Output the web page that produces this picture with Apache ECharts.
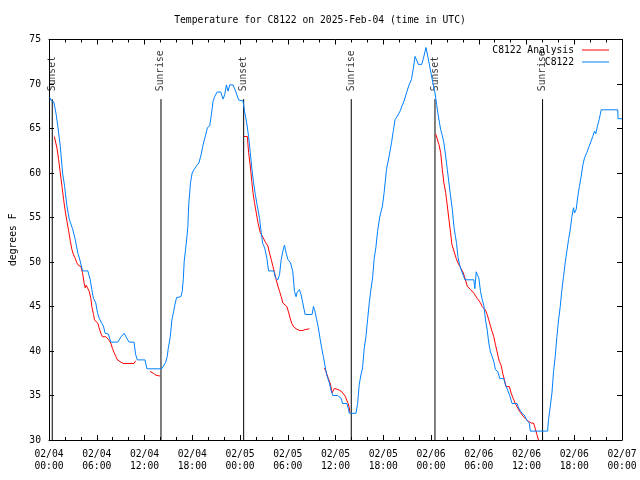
<!DOCTYPE html>
<html>
<head>
<meta charset="utf-8">
<script src="https://cdn.jsdelivr.net/npm/echarts@6/dist/echarts.min.js"></script>
<style>
html,body{margin:0;padding:0;background:#fff;}
#chart{width:640px;height:480px;}
</style>
</head>
<body>
<div id="chart"></div>
<script>
// hours since 2025-02-04 00:00 UTC
var obsHours = [0.1,0.3,0.6,0.9,1.13,1.42,1.71,1.96,2.25,2.55,3.0,3.3,3.63,3.92,4.21,4.88,5.18,5.38,5.59,5.88,6.09,6.3,6.64,6.84,7.05,7.47,7.76,8.64,9.06,9.43,9.64,10.06,10.68,10.89,11.1,12.06,12.31,14.15,14.36,14.65,14.86,14.99,15.24,15.44,15.65,15.82,16.03,16.57,16.74,16.87,16.99,17.16,17.32,17.45,17.57,17.78,17.99,18.24,18.53,18.82,19.07,19.37,19.66,19.91,20.2,20.41,20.62,20.83,21.12,21.58,21.87,22.08,22.29,22.5,22.71,23.12,23.45,23.83,24.38,24.58,24.88,25.08,25.29,25.5,25.71,25.92,26.17,26.46,26.67,26.85,27.1,27.38,27.59,28.25,28.46,28.76,28.97,29.18,29.38,29.59,29.8,30.01,30.35,30.64,30.84,31.05,31.18,31.47,31.68,31.89,32.18,33.06,33.23,33.43,33.64,33.85,34.06,34.27,34.47,34.69,34.9,35.23,35.44,35.65,36.27,36.48,36.69,36.9,37.44,37.65,37.73,38.57,38.78,38.98,39.19,39.4,39.61,39.82,40.03,40.24,40.45,40.66,40.86,41.07,41.28,41.57,41.9,42.11,42.41,42.74,43.04,43.29,43.49,43.79,44.08,44.29,44.62,44.92,45.24,45.54,45.79,45.99,46.2,46.42,46.83,47.05,47.37,47.62,47.9,48.2,48.5,48.71,48.92,49.21,49.42,49.62,49.84,50.05,50.25,50.46,50.68,50.88,51.05,51.21,51.38,51.59,51.8,52.05,52.26,53.38,53.51,53.68,53.81,54.01,54.22,54.43,54.64,54.85,55.06,55.26,55.47,55.68,55.89,56.1,56.39,56.64,57.14,57.35,57.64,57.89,58.18,58.81,59.01,59.43,59.72,60.07,60.35,60.48,62.65,62.77,62.99,63.2,63.4,63.61,63.82,64.03,64.24,64.45,64.66,64.86,65.07,65.28,65.49,65.7,65.91,66.03,66.24,66.45,66.65,66.87,67.08,67.29,67.58,67.87,68.08,68.33,68.54,68.7,68.92,69.13,69.39,71.47,71.5,72];
var obsTemps = [68.5,68.1,68.0,66.6,65.1,63.0,60.0,58.5,56.3,54.8,53.6,52.5,51.0,50.1,49.0,49.0,48.0,46.9,45.9,45.4,44.3,43.7,43.1,42.8,42.0,41.9,41.0,41.0,41.6,42.0,41.8,41.0,41.0,39.6,39.0,39.0,38.0,38.0,38.2,38.7,39.4,40.3,41.6,43.5,44.4,45.2,46.0,46.1,46.7,48.0,50.1,51.4,52.7,54.0,56.6,58.9,60.0,60.4,60.8,61.1,61.9,63.2,64.2,65.1,65.3,66.6,68.1,68.6,69.1,69.1,68.3,68.8,69.9,69.2,69.9,69.9,69.2,68.2,68.1,66.9,65.4,64.1,62.3,60.4,58.9,57.6,56.3,54.9,53.3,52.1,51.6,50.4,49.0,49.0,48.2,48.0,48.6,50.3,51.2,51.9,51.0,50.3,49.9,48.9,46.7,46.1,46.6,46.9,46.3,45.4,44.1,44.1,45.0,44.4,43.5,42.6,41.4,40.3,39.4,38.3,37.3,36.4,35.6,35.0,35.0,35.1,34.7,34.1,34.1,33.4,33.0,33.0,34.1,36.2,37.3,38.1,40.3,41.6,43.5,45.4,46.9,48.2,50.4,51.6,53.4,55.1,56.3,57.8,60.4,61.9,63.4,64.9,66.0,66.4,66.9,67.1,68.1,69.0,69.9,70.5,71.8,73.1,72.9,72.2,72.2,72.9,74.1,73.0,71.7,70.3,69.0,67.7,66.4,64.9,64.2,63.4,61.9,60.4,58.9,57.4,55.9,54.0,53.0,52.1,50.6,49.7,49.1,48.9,48.0,48.0,47.0,48.9,48.6,48.2,46.7,45.8,45.1,43.5,42.4,40.9,39.9,39.4,38.8,37.9,37.7,36.9,36.9,36.2,35.6,35.0,34.1,34.1,33.6,33.0,32.8,32.2,31.9,31.0,31.0,32.3,33.8,35.3,37.7,39.4,41.6,43.5,45.0,46.9,48.4,49.9,51.2,52.5,53.6,55.1,56.1,55.5,55.9,57.4,58.5,59.6,60.9,61.7,62.3,63.0,63.2,64.1,64.7,64.4,65.3,66.0,67.1,67.1,66.1,66.1];

// analysis; '-' marks a gap
var anaHours = [0.67,0.88,1.0,1.21,1.42,1.63,1.84,2.04,2.25,2.47,2.67,2.88,3.09,3.3,3.5,3.72,4.0,4.21,4.42,4.55,4.67,4.88,5.05,5.26,5.38,5.59,5.72,5.92,6.14,6.3,6.51,6.72,6.84,7.14,7.47,7.76,7.97,8.18,8.39,8.6,8.93,9.35,10.68,10.89,11.8,12.69,12.9,13.11,13.4,13.82,13.94,19.0,24.5,24.92,25.08,25.29,25.5,25.63,25.83,26.05,26.26,26.55,26.88,27.21,27.51,27.71,27.92,28.14,28.34,28.55,28.76,28.97,29.18,29.38,29.59,29.89,30.09,30.3,30.51,30.76,31.05,31.47,31.89,32.18,32.72,33.6,34.6,34.81,35.02,35.23,35.36,35.57,35.86,36.2,36.48,36.81,37.03,37.23,37.44,37.6,37.73,37.81,43.0,48.58,48.79,49.0,49.21,49.42,49.62,49.84,50.05,50.25,50.46,50.62,50.75,50.96,51.17,51.38,51.63,51.84,52.05,52.26,52.55,52.76,52.97,53.38,53.81,54.22,54.43,54.64,54.85,55.06,55.26,55.47,55.68,55.89,56.1,56.31,56.43,56.6,56.81,57.01,57.22,57.43,57.64,57.85,58.06,58.31,58.6,58.89,59.22,59.64,59.97,60.26,60.6,60.89,61.1,61.31,61.51,61.6];
var anaTemps = [64.1,64.1,62.8,61.5,60.0,58.5,57.0,55.7,54.6,53.5,52.4,51.4,50.8,50.4,49.9,49.6,49.5,48.8,47.6,47.1,47.4,47.4,46.7,45.9,45.0,44.1,43.5,43.7,43.1,42.6,42.0,41.6,41.8,41.6,41.3,40.9,40.3,39.8,39.4,39.0,38.8,38.6,38.6,38.9,'-',37.7,37.6,37.5,37.3,37.2,37.2,'-',64.1,64.1,62.3,60.8,58.9,57.8,56.6,55.5,54.4,53.3,52.8,52.2,51.8,51.0,50.3,49.5,48.8,48.0,47.3,46.7,46.1,45.4,45.3,45.0,44.4,43.7,43.1,42.7,42.5,42.3,42.3,42.4,42.5,'-',38.1,37.7,37.1,36.6,36.3,35.3,35.8,35.7,35.6,35.4,35.3,34.9,34.4,34.1,33.6,33.1,'-',64.4,64.4,63.2,62.3,60.4,58.9,57.8,56.3,54.8,53.3,52.0,51.8,51.0,50.4,49.9,49.5,49.3,48.8,48.2,47.3,47.1,46.9,46.5,45.9,45.4,45.0,45.2,44.6,44.1,43.5,42.8,42.2,41.6,40.7,39.9,39.4,38.8,38.4,37.5,36.8,36.0,35.9,36.0,35.3,34.7,34.1,33.6,33.1,32.6,32.3,32.1,31.9,31.9,31.3,30.6,30.0,29.8];

var sunHours = [0.41,14.07,24.46,37.98,48.5,62.02];
var sunNames = ['Sunset','Sunrise','Sunset','Sunrise','Sunset','Sunrise'];
var sunLineBottom = 30, sunLineTop = 68.3;

var xTickLabels = ['02/04\n00:00','02/04\n06:00','02/04\n12:00','02/04\n18:00','02/05\n00:00','02/05\n06:00','02/05\n12:00','02/05\n18:00','02/06\n00:00','02/06\n06:00','02/06\n12:00','02/06\n18:00','02/07\n00:00'];
var yTicks = [30,35,40,45,50,55,60,65,70,75];

var FONT = 'DejaVu Sans Mono';
var FS = 9.7;

function zip(a,b){var r=[];for(var i=0;i<a.length;i++){r.push([a[i],b[i]]);}return r;}

var sunLineData = [];
var sunLabelData = [];
for (var i=0;i<sunHours.length;i++){
  sunLineData.push([sunHours[i], sunLineBottom]);
  sunLineData.push([sunHours[i], sunLineTop]);
  sunLineData.push([sunHours[i], '-']);
  sunLabelData.push({value:[sunHours[i], sunLineTop], name: sunNames[i]});
}

var axisCommon = {
  axisLine:{show:true, onZero:false, lineStyle:{color:'#000', width:1}},
  splitLine:{show:false}
};

var legendCommon = {
  right:31, padding:0, orient:'vertical', align:'right',
  icon:'rect', itemWidth:27, itemHeight:1, selectedMode:false,
  textStyle:{fontFamily:FONT, fontSize:FS, color:'#000', padding:[0,3,0,0], lineHeight:12}
};

var chart = echarts.init(document.getElementById('chart'), null, {renderer:'canvas'});
chart.setOption({
  animation:false,
  backgroundColor:'#fff',
  title:{
    text:'Temperature for C8122 on 2025-Feb-04 (time in UTC)',
    left:'center', top:14.5, padding:0,
    textStyle:{fontFamily:FONT, fontSize:FS, fontWeight:'normal', color:'#000', lineHeight:12}
  },
  legend:[
    Object.assign({}, legendCommon, {data:[{name:'C8122 Analysis', itemStyle:{color:'#ff0000'}}], top:44}),
    Object.assign({}, legendCommon, {data:[{name:'C8122', itemStyle:{color:'#0080ff'}}], top:56})
  ],
  grid:{left:46, right:18, top:39.5, bottom:40, containLabel:false},
  xAxis:[
    Object.assign({}, axisCommon, {
      type:'value', min:0, max:72, interval:6, position:'bottom',
      axisTick:{show:true, inside:true, length:5, lineStyle:{color:'#000'}},
      minorTick:{show:true, splitNumber:3, length:3, lineStyle:{color:'#000'}},
      axisLabel:{show:true, margin:8, fontFamily:FONT, fontSize:FS, color:'#000', lineHeight:12,
        showMinLabel:true, showMaxLabel:true, hideOverlap:false,
        formatter:function(v){ return xTickLabels[Math.round(v/6)]; }}
    }),
    Object.assign({}, axisCommon, {
      type:'value', min:0, max:72, interval:6, position:'top',
      axisTick:{show:true, inside:true, length:5, lineStyle:{color:'#000'}},
      minorTick:{show:true, splitNumber:3, length:3, lineStyle:{color:'#000'}},
      axisLabel:{show:false}
    })
  ],
  yAxis:[
    Object.assign({}, axisCommon, {
      type:'value', min:30, max:75, interval:5, position:'left',
      name:'degrees F', nameLocation:'middle', nameGap:31, nameRotate:90,
      nameTextStyle:{fontFamily:FONT, fontSize:FS, color:'#000'},
      axisTick:{show:true, inside:true, length:5, lineStyle:{color:'#000'}},
      axisLabel:{show:true, margin:8, fontFamily:FONT, fontSize:FS, color:'#000',
        showMinLabel:true, showMaxLabel:true,
        formatter:function(v){ return yTicks.indexOf(v)>=0 ? String(v) : ''; }}
    }),
    Object.assign({}, axisCommon, {
      type:'value', min:30, max:75, interval:5, position:'right',
      axisTick:{show:true, inside:true, length:5, lineStyle:{color:'#000'}},
      axisLabel:{show:false}
    })
  ],
  series:[
    {
      name:'sun', type:'line', data:sunLineData, symbol:'none', connectNulls:false,
      lineStyle:{color:'#000', width:1}, silent:true, z:1
    },
    {
      name:'sunlabels', type:'scatter', data:sunLabelData, symbolSize:0, silent:true,
      label:{show:true, position:'top', distance:7, rotate:90, align:'left', verticalAlign:'middle',
        formatter:function(p){return p.name;}, fontFamily:FONT, fontSize:FS, color:'#000', offset:[1,0]}
    },
    {
      name:'C8122 Analysis', type:'line', data:zip(anaHours, anaTemps), symbol:'none', connectNulls:false,
      lineStyle:{color:'#ff0000', width:1}, itemStyle:{color:'#ff0000'}, z:3
    },
    {
      name:'C8122', type:'line', data:zip(obsHours, obsTemps), symbol:'none',
      lineStyle:{color:'#0080ff', width:1}, itemStyle:{color:'#0080ff'}, z:4
    }
  ]
});
</script>
</body>
</html>
